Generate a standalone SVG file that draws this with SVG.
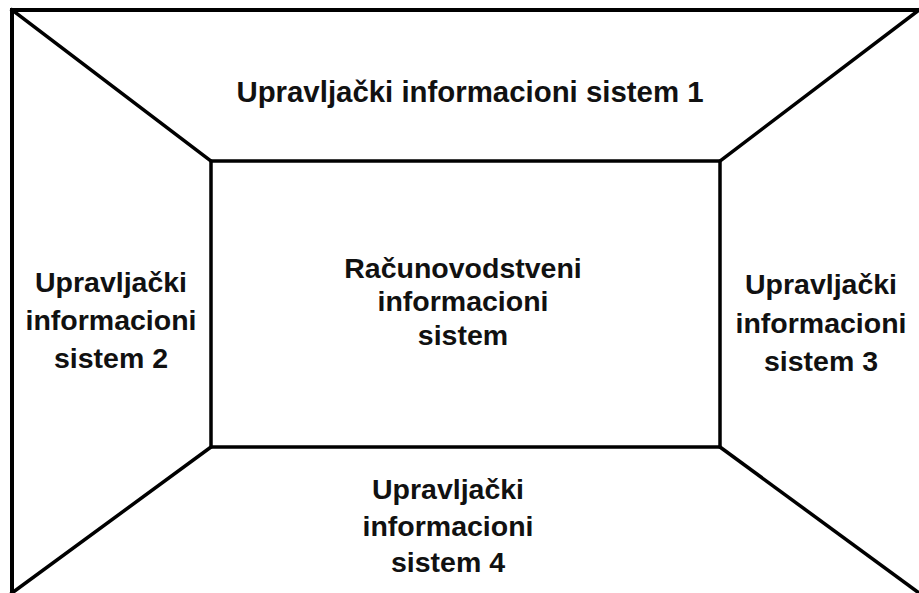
<svg xmlns="http://www.w3.org/2000/svg" width="919" height="593" viewBox="0 0 919 593">
<style>
.ln{stroke:#000;stroke-width:3.5;fill:none;stroke-linecap:square}
.ol{stroke:#000;stroke-width:4;fill:none}
.t{font-family:"Liberation Sans",Arial,Helvetica,sans-serif;font-weight:bold;font-size:28.5px;fill:#111;text-anchor:middle}
</style>
<rect x="0" y="0" width="919" height="593" fill="#fff"/>
<g id="connectors">
<rect class="ol" x="12" y="10" width="912" height="590"/>
<line class="ln" x1="12" y1="10" x2="211" y2="161"/>
<line class="ln" x1="919" y1="10" x2="720" y2="161"/>
<line class="ln" x1="211" y1="447" x2="12" y2="593"/>
<line class="ln" x1="720" y1="447" x2="919" y2="593"/>
</g>
<g id="center">
<rect class="ln" x="211" y="161" width="509" height="286" stroke-width="3"/>
<text class="t" x="463" y="278">Računovodstveni</text>
<text class="t" x="463" y="311">informacioni</text>
<text class="t" x="463" y="345">sistem</text>
</g>
<g id="top">
<text class="t" x="470" y="102" style="font-size:29.4px">Upravljački informacioni sistem 1</text>
</g>
<g id="left">
<text class="t" x="111" y="292">Upravljački</text>
<text class="t" x="111" y="330">informacioni</text>
<text class="t" x="111" y="368">sistem 2</text>
</g>
<g id="right">
<text class="t" x="821" y="294">Upravljački</text>
<text class="t" x="821" y="333">informacioni</text>
<text class="t" x="821" y="371">sistem 3</text>
</g>
<g id="bottom">
<text class="t" x="448" y="499">Upravljački</text>
<text class="t" x="448" y="536">informacioni</text>
<text class="t" x="448" y="572">sistem 4</text>
</g>
</svg>
